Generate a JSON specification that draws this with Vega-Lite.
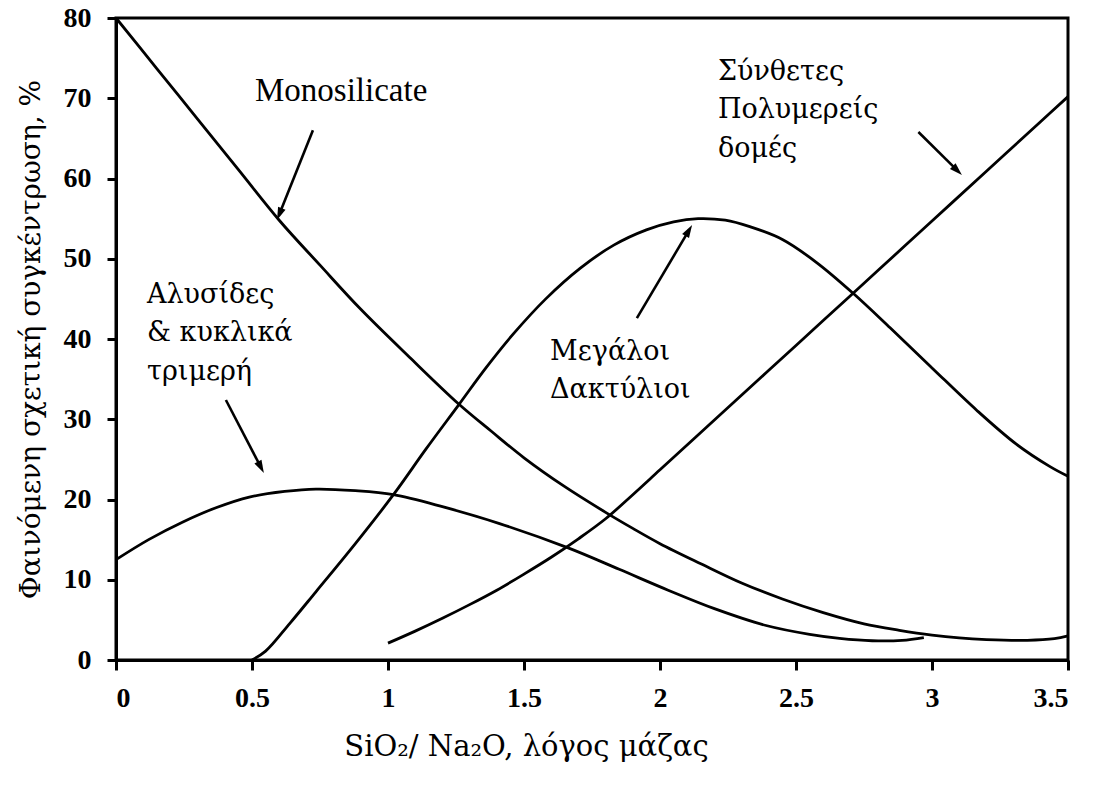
{
  "$schema": "https://vega.github.io/schema/vega-lite/v6.json",
  "autosize": {"type": "none"},
  "width": 952,
  "height": 642,
  "padding": {"left": 116, "top": 18, "right": 30, "bottom": 127},
  "background": "white",
  "config": {
    "view": {"stroke": "black", "strokeWidth": 3},
    "axis": {
      "grid": false,
      "domainColor": "black",
      "domainWidth": 3,
      "tickColor": "black",
      "tickWidth": 3,
      "labelColor": "black",
      "labelFont": "Liberation Serif",
      "labelFontWeight": "bold",
      "labelFontSize": 28,
      "titleColor": "black",
      "titleFont": "DejaVu Serif",
      "titleFontWeight": "normal",
      "titleFontSize": 28
    }
  },
  "datasets": {
    "curves": [
      {"s": "Monosilicate", "r": 0, "c": 80},
      {"s": "Monosilicate", "r": 0.15, "c": 73.7},
      {"s": "Monosilicate", "r": 0.3, "c": 67.4},
      {"s": "Monosilicate", "r": 0.45, "c": 61.1},
      {"s": "Monosilicate", "r": 0.6, "c": 54.8},
      {"s": "Monosilicate", "r": 0.75, "c": 49.2},
      {"s": "Monosilicate", "r": 0.9, "c": 43.7},
      {"s": "Monosilicate", "r": 1.08, "c": 37.7},
      {"s": "Monosilicate", "r": 1.26, "c": 31.9},
      {"s": "Monosilicate", "r": 1.38, "c": 28.5},
      {"s": "Monosilicate", "r": 1.5, "c": 25.2},
      {"s": "Monosilicate", "r": 1.65, "c": 21.6},
      {"s": "Monosilicate", "r": 1.8, "c": 18.4},
      {"s": "Monosilicate", "r": 1.9, "c": 16.4},
      {"s": "Monosilicate", "r": 2.0, "c": 14.5},
      {"s": "Monosilicate", "r": 2.15, "c": 12.0},
      {"s": "Monosilicate", "r": 2.3, "c": 9.6},
      {"s": "Monosilicate", "r": 2.45, "c": 7.6},
      {"s": "Monosilicate", "r": 2.6, "c": 5.9},
      {"s": "Monosilicate", "r": 2.75, "c": 4.5},
      {"s": "Monosilicate", "r": 2.88, "c": 3.7},
      {"s": "Monosilicate", "r": 3.0, "c": 3.1},
      {"s": "Monosilicate", "r": 3.1, "c": 2.75},
      {"s": "Monosilicate", "r": 3.2, "c": 2.55},
      {"s": "Monosilicate", "r": 3.35, "c": 2.45},
      {"s": "Monosilicate", "r": 3.45, "c": 2.65},
      {"s": "Monosilicate", "r": 3.5, "c": 3.0},

      {"s": "Chains", "r": 0, "c": 12.5},
      {"s": "Chains", "r": 0.12, "c": 15.0},
      {"s": "Chains", "r": 0.246, "c": 17.2},
      {"s": "Chains", "r": 0.37, "c": 19.0},
      {"s": "Chains", "r": 0.49, "c": 20.3},
      {"s": "Chains", "r": 0.62, "c": 21.0},
      {"s": "Chains", "r": 0.735, "c": 21.3},
      {"s": "Chains", "r": 0.88, "c": 21.1},
      {"s": "Chains", "r": 1.02, "c": 20.6},
      {"s": "Chains", "r": 1.2, "c": 19.1},
      {"s": "Chains", "r": 1.41, "c": 17.0},
      {"s": "Chains", "r": 1.66, "c": 14.0},
      {"s": "Chains", "r": 1.85, "c": 11.3},
      {"s": "Chains", "r": 2.03, "c": 8.7},
      {"s": "Chains", "r": 2.2, "c": 6.4},
      {"s": "Chains", "r": 2.39, "c": 4.3},
      {"s": "Chains", "r": 2.55, "c": 3.2},
      {"s": "Chains", "r": 2.66, "c": 2.7},
      {"s": "Chains", "r": 2.78, "c": 2.4},
      {"s": "Chains", "r": 2.89, "c": 2.45},
      {"s": "Chains", "r": 2.97, "c": 2.8},

      {"s": "Rings", "r": 0.5, "c": 0},
      {"s": "Rings", "r": 0.55, "c": 1.1},
      {"s": "Rings", "r": 0.64, "c": 4.6},
      {"s": "Rings", "r": 0.735, "c": 8.5},
      {"s": "Rings", "r": 0.88, "c": 14.5},
      {"s": "Rings", "r": 1.02, "c": 20.6},
      {"s": "Rings", "r": 1.14, "c": 26.3},
      {"s": "Rings", "r": 1.26, "c": 31.8},
      {"s": "Rings", "r": 1.36, "c": 36.4},
      {"s": "Rings", "r": 1.46, "c": 40.6},
      {"s": "Rings", "r": 1.58, "c": 45.0},
      {"s": "Rings", "r": 1.706, "c": 48.8},
      {"s": "Rings", "r": 1.83, "c": 51.7},
      {"s": "Rings", "r": 1.95, "c": 53.6},
      {"s": "Rings", "r": 2.05, "c": 54.6},
      {"s": "Rings", "r": 2.14, "c": 55.0},
      {"s": "Rings", "r": 2.24, "c": 54.8},
      {"s": "Rings", "r": 2.33, "c": 54.0},
      {"s": "Rings", "r": 2.45, "c": 52.4},
      {"s": "Rings", "r": 2.577, "c": 49.5},
      {"s": "Rings", "r": 2.71, "c": 45.7},
      {"s": "Rings", "r": 2.846, "c": 41.4},
      {"s": "Rings", "r": 3.0, "c": 36.4},
      {"s": "Rings", "r": 3.165, "c": 31.1},
      {"s": "Rings", "r": 3.31, "c": 26.9},
      {"s": "Rings", "r": 3.434, "c": 24.1},
      {"s": "Rings", "r": 3.5, "c": 22.9},

      {"s": "Polymers", "r": 1.0, "c": 2.1},
      {"s": "Polymers", "r": 1.1, "c": 3.6},
      {"s": "Polymers", "r": 1.2, "c": 5.2},
      {"s": "Polymers", "r": 1.3, "c": 6.9},
      {"s": "Polymers", "r": 1.4, "c": 8.7},
      {"s": "Polymers", "r": 1.5, "c": 10.7},
      {"s": "Polymers", "r": 1.6, "c": 12.8},
      {"s": "Polymers", "r": 1.7, "c": 15.1},
      {"s": "Polymers", "r": 1.8, "c": 17.6},
      {"s": "Polymers", "r": 1.9, "c": 20.6},
      {"s": "Polymers", "r": 2.0, "c": 23.7},
      {"s": "Polymers", "r": 2.2, "c": 29.9},
      {"s": "Polymers", "r": 2.4, "c": 36.1},
      {"s": "Polymers", "r": 2.6, "c": 42.3},
      {"s": "Polymers", "r": 2.8, "c": 48.5},
      {"s": "Polymers", "r": 3.0, "c": 54.7},
      {"s": "Polymers", "r": 3.2, "c": 60.9},
      {"s": "Polymers", "r": 3.4, "c": 67.1},
      {"s": "Polymers", "r": 3.5, "c": 70.2}
    ],
    "arrows": [
      {"arrow": "mono", "x": 0.724, "y": 66.0, "hx": 0.603, "hy": 55.75},
      {"arrow": "chains", "x": 0.404, "y": 32.4, "hx": 0.530, "hy": 24.19},
      {"arrow": "rings", "x": 1.915, "y": 42.6, "hx": 2.103, "hy": 53.35},
      {"arrow": "poly", "x": 2.95, "y": 65.8, "hx": 3.089, "hy": 61.13}
    ],
    "labels": [
      {"lang": "en", "text": "Monosilicate", "x": 0.511, "y": 69.6},
      {"lang": "el", "text": "Σύνθετες\nΠολυμερείς\nδομές", "x": 2.213, "y": 72.3},
      {"lang": "el", "text": "Αλυσίδες\n& κυκλικά\nτριμερή", "x": 0.114, "y": 44.5},
      {"lang": "el", "text": "Μεγάλοι\nΔακτύλιοι", "x": 1.596, "y": 37.4}
    ]
  },
  "layer": [
    {
      "data": {"name": "curves"},
      "mark": {"type": "line", "color": "black", "strokeWidth": 2.8, "interpolate": "catmull-rom"},
      "encoding": {
        "x": {
          "field": "r", "type": "quantitative",
          "scale": {"domain": [0, 3.5], "nice": false, "zero": false},
          "axis": {
            "values": [0, 0.5, 1, 1.5, 2, 2.5, 3, 3.5],
            "format": "~g",
            "tickSize": 10,
            "labelPadding": 14,
            "title": "SiO₂/ Na₂O, λόγος μάζας",
            "titleFontSize": 29,
            "titlePadding": 20,
            "titleX": 410
          }
        },
        "y": {
          "field": "c", "type": "quantitative",
          "scale": {"domain": [0, 80], "nice": false},
          "axis": {
            "values": [0, 10, 20, 30, 40, 50, 60, 70, 80],
            "tickSize": 9,
            "labelPadding": 16,
            "title": "Φαινόμενη σχετική συγκέντρωση, %",
            "titlePadding": 18
          }
        },
        "detail": {"field": "s"}
      }
    },
    {
      "data": {"name": "arrows"},
      "mark": {"type": "rule", "color": "black", "strokeWidth": 2.6},
      "encoding": {
        "x": {"field": "x", "type": "quantitative"},
        "y": {"field": "y", "type": "quantitative"},
        "x2": {"field": "hx"},
        "y2": {"field": "hy"}
      }
    },
    {
      "data": {"name": "arrows"},
      "transform": [{"filter": "datum.arrow === 'mono'"}],
      "mark": {"type": "point", "shape": "M0,-1L0.5,0.6L-0.5,0.6Z", "filled": true, "color": "black", "opacity": 1, "size": 256, "angle": 201.8},
      "encoding": {"x": {"field": "hx", "type": "quantitative"}, "y": {"field": "hy", "type": "quantitative"}}
    },
    {
      "data": {"name": "arrows"},
      "transform": [{"filter": "datum.arrow === 'chains'"}],
      "mark": {"type": "point", "shape": "M0,-1L0.5,0.6L-0.5,0.6Z", "filled": true, "color": "black", "opacity": 1, "size": 256, "angle": 152.5},
      "encoding": {"x": {"field": "hx", "type": "quantitative"}, "y": {"field": "hy", "type": "quantitative"}}
    },
    {
      "data": {"name": "arrows"},
      "transform": [{"filter": "datum.arrow === 'rings'"}],
      "mark": {"type": "point", "shape": "M0,-1L0.5,0.6L-0.5,0.6Z", "filled": true, "color": "black", "opacity": 1, "size": 256, "angle": 30.6},
      "encoding": {"x": {"field": "hx", "type": "quantitative"}, "y": {"field": "hy", "type": "quantitative"}}
    },
    {
      "data": {"name": "arrows"},
      "transform": [{"filter": "datum.arrow === 'poly'"}],
      "mark": {"type": "point", "shape": "M0,-1L0.5,0.6L-0.5,0.6Z", "filled": true, "color": "black", "opacity": 1, "size": 256, "angle": 134.4},
      "encoding": {"x": {"field": "hx", "type": "quantitative"}, "y": {"field": "hy", "type": "quantitative"}}
    },
    {
      "data": {"name": "labels"},
      "transform": [{"filter": "datum.lang === 'en'"}],
      "mark": {"type": "text", "align": "left", "baseline": "alphabetic", "font": "Liberation Serif", "fontSize": 33, "color": "black"},
      "encoding": {
        "x": {"field": "x", "type": "quantitative"},
        "y": {"field": "y", "type": "quantitative"},
        "text": {"field": "text"}
      }
    },
    {
      "data": {"name": "labels"},
      "transform": [{"filter": "datum.lang === 'el'"}],
      "mark": {"type": "text", "align": "left", "baseline": "alphabetic", "lineBreak": "\n", "lineHeight": 38.5, "font": "DejaVu Serif", "fontSize": 27, "color": "black"},
      "encoding": {
        "x": {"field": "x", "type": "quantitative"},
        "y": {"field": "y", "type": "quantitative"},
        "text": {"field": "text"}
      }
    }
  ]
}
